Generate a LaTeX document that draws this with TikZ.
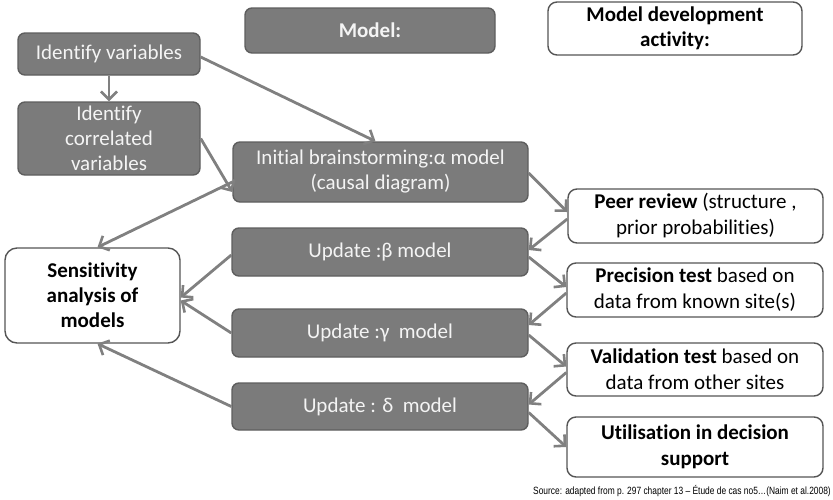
\documentclass[tikz,border=0pt]{standalone}
\usepackage{fontspec}
\setmainfont{Carlito}[Ligatures={NoCommon}]
\newfontfamily\srcfont[FakeStretch=0.8]{Liberation Sans}
\usetikzlibrary{arrows.meta}
\definecolor{boxfill}{HTML}{7B7B7B}
\definecolor{boxline}{HTML}{5E5E5E}
\definecolor{arrowgray}{HTML}{808080}
\definecolor{wline}{HTML}{555555}
\definecolor{lighttext}{HTML}{F4F4F4}
\tikzset{
  darkbox/.style={draw=boxline, line width=1.4pt, fill=boxfill, rounded corners=7pt,
    text=lighttext, align=center, inner sep=0pt,
    font=\fontsize{21}{25}\selectfont},
  whitebox/.style={draw=wline, line width=1.4pt, fill=white, rounded corners=9pt,
    text=black, align=center, inner sep=0pt,
    font=\fontsize{21}{26}\selectfont},
  conn/.style={draw=arrowgray, line width=2.8pt,
    -{Straight Barb[length=8pt,width=16pt,line width=2.6pt]}}
}
\begin{document}
\begin{tikzpicture}[x=1pt,y=-1pt]
\useasboundingbox (0,0) rectangle (833,499);

% left column
\node[darkbox, minimum width=182pt, minimum height=42pt] (idv) at (109,54) {Identify variables};
\node[darkbox, minimum width=182pt, minimum height=73pt] (idc) at (109,138.5) {Identify\\correlated\\variables};
\node[whitebox, rounded corners=12pt, minimum width=175pt, minimum height=95pt, font=\fontsize{21}{25}\selectfont\bfseries] (sens) at (92.5,295.5) {Sensitivity\\analysis of\\models};

% middle column
\node[darkbox, minimum width=250pt, minimum height=45pt, font=\fontsize{21}{25}\selectfont\bfseries] (model) at (370,30.5) {Model:};
\node[darkbox, minimum width=295pt, minimum height=60pt] (init) at (380.5,172) {Initial brainstorming:α model\\(causal diagram)};
\node[darkbox, minimum width=296pt, minimum height=48pt] (beta) at (380,252) {Update :β model};
\node[darkbox, minimum width=296pt, minimum height=48pt] (gamma) at (380,333) {Update :γ~~model};
\node[darkbox, minimum width=296pt, minimum height=47pt] (delta) at (380,406.5) {Update : δ~~model};

% right column
\node[whitebox, minimum width=254pt, minimum height=53pt, font=\fontsize{21}{25}\selectfont\bfseries] (mda) at (675,28.5) {Model development\\activity:};
\node[whitebox, minimum width=255pt, minimum height=54pt] (peer) at (695.5,216) {\textbf{Peer review} (structure ,\\prior probabilities)};
\node[whitebox, minimum width=256pt, minimum height=54pt] (prec) at (695,290) {\textbf{Precision test} based on\\data from known site(s)};
\node[whitebox, minimum width=256pt, minimum height=53pt] (valid) at (695,369.5) {\textbf{Validation test} based on\\data from other sites};
\node[whitebox, minimum width=256pt, minimum height=60pt, font=\fontsize{21}{26}\selectfont\bfseries] (util) at (695,447) {Utilisation in decision\\support};

% source
\node[anchor=east, inner sep=0pt, font=\srcfont\fontsize{10.5}{12}\selectfont] (src) at (831,491) {Source: adapted from p. 297 chapter 13 – Étude de cas no5…(Naim et al.2008)};

% connectors
\draw[conn] (idv.south) -- (idc.north);
\draw[conn] ([yshift=-3pt]idv.east) -- ([xshift=-5pt]init.north);
\draw[conn] (idc.east) -- ([yshift=-20pt]init.west);
\draw[conn] ([yshift=-10pt]init.west) -- ([xshift=5pt]sens.north);
\draw[conn] ([yshift=-1pt]init.east) -- ([yshift=4pt]peer.west);
\draw[conn] ([yshift=-3pt]peer.west) -- ([yshift=2pt]beta.east);
\draw[conn] ([yshift=-5pt]beta.east) -- ([yshift=3pt]prec.west);
\draw[conn] ([yshift=-3pt]prec.west) -- ([yshift=8pt]gamma.east);
\draw[conn] ([yshift=-2pt]gamma.east) -- ([yshift=3pt]valid.west);
\draw[conn] ([yshift=-3pt]valid.west) -- ([yshift=2pt]delta.east);
\draw[conn] ([yshift=-6pt]delta.east) -- (util.west);
\draw[conn] ([yshift=-3pt]beta.west) -- ([yshift=-2pt]sens.east);
\draw[conn] (gamma.west) -- ([yshift=-5pt]sens.east);
\draw[conn] (delta.west) -- ([xshift=5pt]sens.south);
\end{tikzpicture}
\end{document}
